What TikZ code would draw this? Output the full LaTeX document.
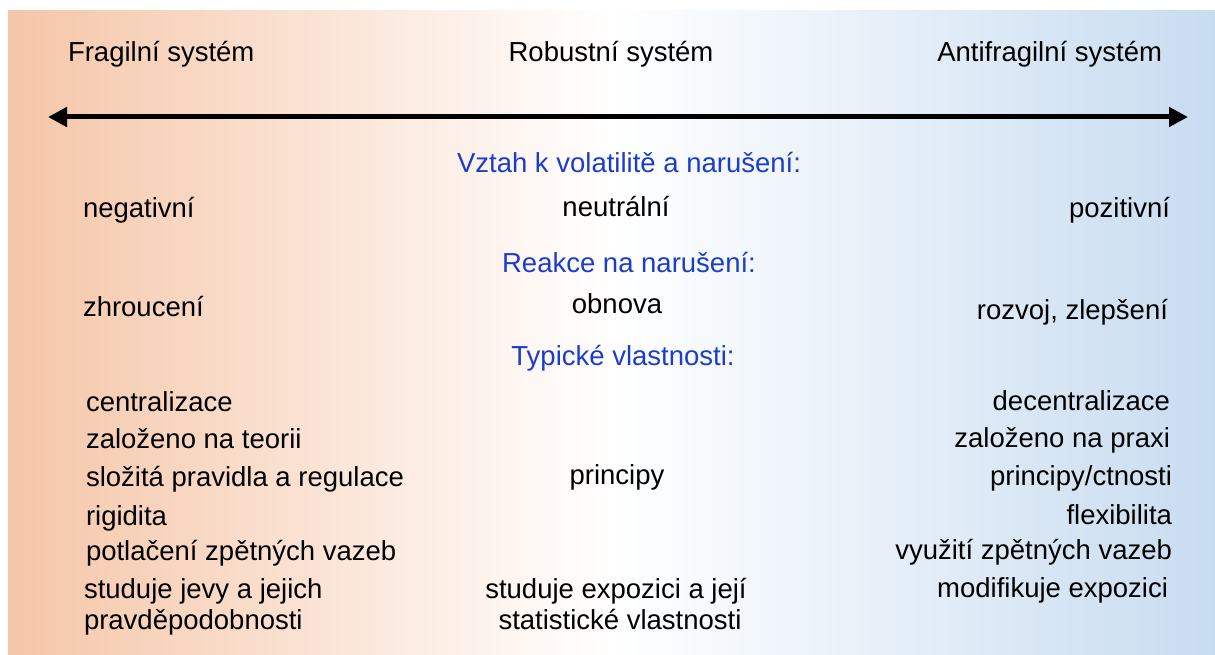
\documentclass[tikz,border=0pt]{standalone}
\usepackage{fontspec}
\setmainfont{Liberation Sans}
\usetikzlibrary{arrows.meta}
\definecolor{fragile}{RGB}{245,198,168}
\definecolor{antifragile}{RGB}{200,220,240}
\definecolor{heading}{RGB}{28,60,205}
\tikzset{
  txt/.style={inner sep=0pt, outer sep=0pt, font=\fontsize{27.5}{31}\selectfont, text=black},
  lcol/.style={txt, anchor=base west},
  rcol/.style={txt, anchor=base east},
  ccol/.style={txt, anchor=base},
  head/.style={ccol, text=heading},
  scale arrow/.style={line width=5pt, {Triangle[length=19pt,width=19pt]}-{Triangle[length=19pt,width=19pt]}}
}
\begin{document}
\begin{tikzpicture}[x=1pt,y=-1pt]
  % page and graded background
  \useasboundingbox (0,0) rectangle (1215,655);
  \fill[white] (0,0) rectangle (1215,655);
  \shade[left color=fragile, right color=antifragile, middle color=white] (8,11) rectangle (1215,655);

  % column titles
  \node[lcol] (tfrag) at (68,62) {Fragilní systém};
  \node[ccol] (trob) at (611,62) {Robustní systém};
  \node[rcol] (tanti) at (1162,62) {Antifragilní systém};

  % double-headed scale
  \coordinate (scaleL) at (48,117);
  \coordinate (scaleR) at (1188,117);
  \draw[scale arrow] (scaleL) -- (scaleR);

  % relation to volatility
  \node[head] (h1) at (629,173) {Vztah k volatilitě a narušení:};
  \node[lcol] (f1) at (83,218) {negativní};
  \node[ccol] (r1) at (616,216) {neutrální};
  \node[rcol] (a1) at (1170,218) {pozitivní};

  % reaction to disruption
  \node[head] (h2) at (629,272) {Reakce na narušení:};
  \node[lcol] (f2) at (83,316) {zhroucení};
  \node[ccol] (r2) at (617,313) {obnova};
  \node[rcol] (a2) at (1168,319) {rozvoj, zlepšení};

  % typical properties
  \node[head] (h3) at (623,365) {Typické vlastnosti:};

  \node[lcol] (f3) at (86,411) {centralizace};
  \node[lcol] (f4) at (86,448) {založeno na teorii};
  \node[lcol] (f5) at (86,486) {složitá pravidla a regulace};
  \node[lcol] (f6) at (86,525) {rigidita};
  \node[lcol] (f7) at (86,560) {potlačení zpětných vazeb};
  \node[lcol] (f8) at (84,598) {studuje jevy a jejich};
  \node[lcol] (f9) at (84,629) {pravděpodobnosti};

  \node[ccol] (r3) at (617,484) {principy};
  \node[ccol] (r4) at (616,598) {studuje expozici a její};
  \node[ccol] (r5) at (620,629) {statistické vlastnosti};

  \node[rcol] (a3) at (1170,410) {decentralizace};
  \node[rcol] (a4) at (1170,447) {založeno na praxi};
  \node[rcol] (a5) at (1172,485) {principy/ctnosti};
  \node[rcol] (a6) at (1172,524) {flexibilita};
  \node[rcol] (a7) at (1172,559) {využití zpětných vazeb};
  \node[rcol] (a8) at (1168,597) {modifikuje expozici};
\end{tikzpicture}
\end{document}
